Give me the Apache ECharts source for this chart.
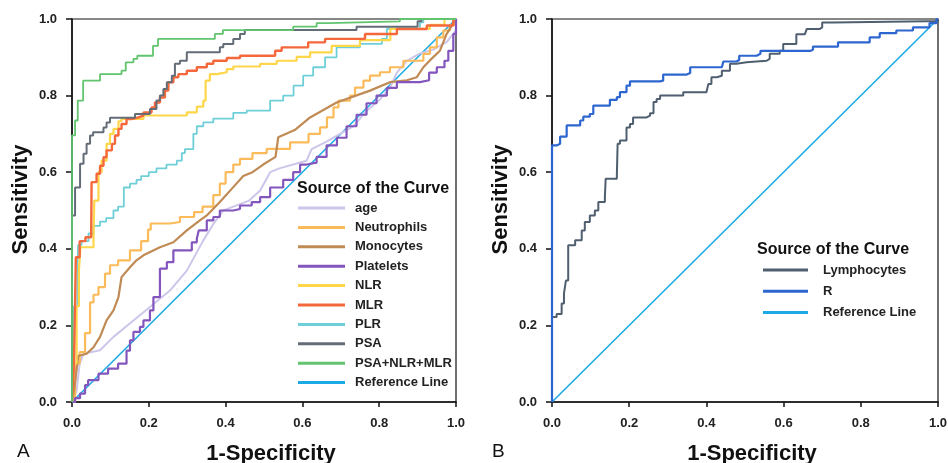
<!DOCTYPE html>
<html>
<head>
<meta charset="utf-8">
<script src="https://cdn.jsdelivr.net/npm/echarts@6/dist/echarts.min.js"></script>
<style>html,body{margin:0;padding:0;background:#fff;}#c{width:948px;height:463px;}</style>
</head>
<body>
<div id="c"></div>
<script>
// ---------- Data (x = 1-Specificity, y = Sensitivity) ----------
const axisTicks = [0, 0.2, 0.4, 0.6, 0.8, 1.0];

const ageData = [[0,0],[0.012,0.03],[0.02,0.1],[0.03,0.126],[0.073,0.135],[0.108,0.17],[0.16,0.213],[0.203,0.248],[0.255,0.291],[0.299,0.343],[0.342,0.422],[0.368,0.465],[0.394,0.5],[0.42,0.51],[0.46,0.525],[0.49,0.552],[0.516,0.6],[0.54,0.61],[0.576,0.62],[0.611,0.63],[0.624,0.66],[0.663,0.68],[0.698,0.7],[0.733,0.72],[0.767,0.76],[0.802,0.79],[0.828,0.82],[0.846,0.86],[0.871,0.89],[0.906,0.91],[0.941,0.92],[0.976,0.94],[1,0.97]];

const neutrophilsData = [[0,0],[0.008,0.05],[0.012,0.1],[0.02,0.13],[0.034,0.18],[0.047,0.26],[0.056,0.28],[0.069,0.30],[0.086,0.335],[0.099,0.357],[0.12,0.37],[0.151,0.396],[0.18,0.42],[0.198,0.45],[0.205,0.466],[0.255,0.47],[0.281,0.483],[0.318,0.496],[0.34,0.51],[0.368,0.54],[0.385,0.57],[0.4,0.6],[0.42,0.62],[0.4375,0.635],[0.47,0.65],[0.507,0.661],[0.568,0.678],[0.616,0.7],[0.646,0.717],[0.664,0.743],[0.681,0.769],[0.694,0.787],[0.724,0.8],[0.737,0.821],[0.759,0.839],[0.776,0.852],[0.802,0.861],[0.828,0.874],[0.863,0.891],[0.915,0.909],[0.932,0.926],[0.95,0.952],[0.967,0.97],[0.984,0.985],[1,1]];

const monocytesData = [[0,0],[0.008,0.05],[0.016,0.12],[0.038,0.126],[0.056,0.143],[0.073,0.17],[0.09,0.213],[0.108,0.239],[0.121,0.274],[0.129,0.326],[0.151,0.352],[0.168,0.37],[0.186,0.383],[0.229,0.404],[0.264,0.417],[0.299,0.448],[0.333,0.474],[0.351,0.487],[0.385,0.522],[0.42,0.561],[0.446,0.59],[0.47,0.60],[0.498,0.62],[0.53,0.64],[0.537,0.691],[0.58,0.71],[0.62,0.743],[0.689,0.782],[0.776,0.813],[0.828,0.835],[0.872,0.84],[0.898,0.848],[0.915,0.874],[0.93,0.89],[0.958,0.917],[0.975,0.96],[1,1]];

const plateletsData = [[0,0],[0.008,0.01],[0.021,0.022],[0.034,0.044],[0.042,0.057],[0.069,0.074],[0.094,0.087],[0.12,0.1],[0.142,0.134],[0.151,0.161],[0.16,0.183],[0.177,0.196],[0.186,0.213],[0.203,0.239],[0.212,0.274],[0.229,0.348],[0.247,0.365],[0.264,0.396],[0.312,0.417],[0.325,0.426],[0.33,0.448],[0.351,0.474],[0.368,0.483],[0.385,0.5],[0.42,0.504],[0.4375,0.513],[0.468,0.522],[0.49,0.535],[0.516,0.56],[0.55,0.58],[0.576,0.60],[0.594,0.62],[0.611,0.625],[0.637,0.64],[0.663,0.67],[0.69,0.69],[0.715,0.72],[0.741,0.75],[0.767,0.78],[0.793,0.80],[0.82,0.82],[0.846,0.835],[0.906,0.84],[0.93,0.86],[0.95,0.874],[0.97,0.891],[0.98,0.917],[0.993,0.961],[1,1]];

const nlrData = [[0,0],[0.005,0.1],[0.012,0.25],[0.018,0.343],[0.022,0.404],[0.056,0.43],[0.058,0.526],[0.069,0.6],[0.077,0.63],[0.09,0.674],[0.099,0.7],[0.108,0.713],[0.121,0.733],[0.129,0.739],[0.186,0.748],[0.299,0.756],[0.325,0.771],[0.342,0.787],[0.348,0.839],[0.359,0.856],[0.377,0.861],[0.403,0.869],[0.42,0.876],[0.49,0.883],[0.533,0.891],[0.585,0.901],[0.62,0.913],[0.676,0.93],[0.75,0.945],[0.829,0.974],[0.932,0.985],[0.97,1],[1,1]];

const mlrData = [[0,0],[0.005,0.09],[0.01,0.378],[0.02,0.42],[0.035,0.43],[0.05,0.44],[0.051,0.574],[0.064,0.596],[0.073,0.617],[0.082,0.639],[0.09,0.657],[0.104,0.674],[0.112,0.696],[0.121,0.713],[0.129,0.726],[0.142,0.739],[0.155,0.743],[0.173,0.748],[0.186,0.756],[0.207,0.769],[0.216,0.782],[0.229,0.795],[0.242,0.813],[0.251,0.835],[0.264,0.848],[0.277,0.856],[0.299,0.865],[0.325,0.874],[0.351,0.883],[0.368,0.891],[0.403,0.898],[0.4375,0.904],[0.529,0.917],[0.546,0.926],[0.615,0.939],[0.659,0.948],[0.763,0.961],[0.846,0.974],[0.924,0.983],[0.993,1],[1,1]];

const plrData = [[0,0],[0.005,0.25],[0.014,0.35],[0.016,0.41],[0.025,0.42],[0.043,0.44],[0.056,0.46],[0.073,0.471],[0.089,0.48],[0.108,0.5],[0.12,0.51],[0.135,0.56],[0.151,0.57],[0.168,0.58],[0.18,0.59],[0.2,0.6],[0.22,0.61],[0.246,0.62],[0.273,0.63],[0.286,0.65],[0.294,0.66],[0.316,0.7],[0.325,0.72],[0.342,0.73],[0.368,0.74],[0.42,0.755],[0.455,0.761],[0.516,0.787],[0.55,0.8],[0.577,0.826],[0.602,0.852],[0.628,0.874],[0.659,0.9],[0.689,0.926],[0.75,0.935],[0.807,0.948],[0.82,0.974],[0.906,0.991],[0.915,1],[1,1]];

const psaData = [[0,0],[0,0.487],[0.008,0.56],[0.021,0.622],[0.03,0.648],[0.038,0.674],[0.047,0.696],[0.055,0.704],[0.082,0.717],[0.09,0.73],[0.099,0.742],[0.164,0.752],[0.203,0.765],[0.22,0.787],[0.229,0.8],[0.238,0.817],[0.247,0.835],[0.26,0.852],[0.268,0.883],[0.281,0.891],[0.299,0.913],[0.385,0.926],[0.394,0.935],[0.42,0.948],[0.4375,0.961],[0.45,0.971],[0.741,0.98],[0.9,0.994],[0.91,1],[1,1]];

const comboData = [[0,0],[0,0.696],[0.008,0.735],[0.015,0.787],[0.029,0.839],[0.073,0.856],[0.129,0.865],[0.14,0.887],[0.16,0.896],[0.17,0.904],[0.211,0.93],[0.224,0.948],[0.372,0.961],[0.393,0.971],[0.576,0.98],[0.637,0.989],[0.667,0.994],[0.854,1],[1,1]];

const referenceData = [[0,0],[1,1]];

const lymphocytesData = [[0,0],[0,0.222],[0.012,0.23],[0.025,0.257],[0.031,0.283],[0.036,0.317],[0.042,0.409],[0.06,0.422],[0.077,0.448],[0.085,0.47],[0.098,0.487],[0.111,0.5],[0.12,0.522],[0.137,0.535],[0.139,0.583],[0.168,0.591],[0.17,0.674],[0.176,0.683],[0.193,0.717],[0.202,0.726],[0.21,0.743],[0.245,0.748],[0.254,0.754],[0.263,0.783],[0.271,0.791],[0.28,0.8],[0.34,0.809],[0.4,0.813],[0.405,0.83],[0.413,0.848],[0.427,0.852],[0.44,0.865],[0.461,0.883],[0.478,0.887],[0.504,0.891],[0.556,0.896],[0.564,0.909],[0.59,0.917],[0.599,0.935],[0.633,0.96],[0.655,0.965],[0.66,0.974],[0.694,0.978],[0.7,0.991],[0.728,0.994],[0.97,0.994],[1,1]];

const rData = [[0,0],[0,0.67],[0.012,0.674],[0.021,0.693],[0.038,0.722],[0.073,0.735],[0.081,0.745],[0.098,0.752],[0.107,0.774],[0.15,0.789],[0.168,0.796],[0.176,0.809],[0.193,0.826],[0.202,0.837],[0.28,0.839],[0.288,0.855],[0.349,0.859],[0.358,0.874],[0.44,0.878],[0.444,0.889],[0.478,0.893],[0.485,0.904],[0.53,0.909],[0.54,0.917],[0.67,0.92],[0.676,0.928],[0.741,0.939],[0.823,0.952],[0.849,0.963],[0.892,0.97],[0.935,0.978],[0.978,0.989],[0.996,1],[1,1]];

const leftNames = ['age','Neutrophils','Monocytes','Platelets','NLR','MLR','PLR','PSA','PSA+NLR+MLR','Reference Line'];
const rightNames = ['Lymphocytes','R','Reference Line'];
const legendTitle = 'Source of the Curve';
const xTitle = '1-Specificity';
const yTitle = 'Sensitivity';

// ---------- Chart ----------
const FONT = '"Liberation Sans", Arial, sans-serif';
const chart = echarts.init(document.getElementById('c'), null, {renderer: 'canvas'});

function mkX(i) {
  return {
    type: 'value', gridIndex: i, min: 0, max: 1, interval: 0.2,
    name: xTitle, nameLocation: 'middle', nameGap: 41,
    nameTextStyle: {fontFamily: FONT, fontWeight: 'bold', fontSize: 22, color: '#111', padding: [0, 0, 0, 14]},
    axisLine: {show: true, onZero: false, lineStyle: {color: '#111', width: 1.5}},
    axisTick: {show: true, inside: false, length: 5, lineStyle: {color: '#111', width: 1.5}},
    axisLabel: {margin: 15, fontFamily: FONT, fontWeight: 'bold', fontSize: 13, color: '#222',
      formatter: v => v.toFixed(1)},
    splitLine: {show: false}
  };
}
function mkY(i) {
  return {
    type: 'value', gridIndex: i, min: 0, max: 1, interval: 0.2,
    name: yTitle, nameLocation: 'middle', nameGap: 40,
    nameTextStyle: {fontFamily: FONT, fontWeight: 'bold', fontSize: 22, color: '#111', padding: [0, 0, 0, 22]},
    axisLine: {show: true, onZero: false, lineStyle: {color: '#111', width: 1.5}},
    axisTick: {show: true, inside: false, length: 6, lineStyle: {color: '#111', width: 1.5}},
    axisLabel: {margin: 15, fontFamily: FONT, fontWeight: 'bold', fontSize: 13, color: '#222',
      formatter: v => v.toFixed(1)},
    splitLine: {show: false}
  };
}
function ser(name, data, color, width, gi, step, z) {
  return {
    type: 'line', name: name, data: data, xAxisIndex: gi, yAxisIndex: gi,
    step: step ? 'end' : false, symbol: 'none', showSymbol: false, smooth: false,
    lineStyle: {color: color, width: width}, itemStyle: {color: color},
    z: z || 2, animation: false, silent: true
  };
}

const colors = {
  age: '#cdc6ea', Neutrophils: '#fbbb5a', Monocytes: '#c08a55', Platelets: '#8356bd',
  NLR: '#fdd64a', MLR: '#f4683c', PLR: '#6fcfd8', PSA: '#646c78', 'PSA+NLR+MLR': '#62c46e',
  'Reference Line': '#1caae6', Lymphocytes: '#4f5f70', R: '#2e66d0'
};

const option = {
  backgroundColor: '#ffffff',
  animation: false,
  grid: [
    {left: 72, top: 19, width: 384, height: 383, containLabel: false, outerBoundsMode: 'none',
      show: true, borderColor: '#111', borderWidth: 1.2, backgroundColor: 'transparent'},
    {left: 552, top: 19, width: 386, height: 383, containLabel: false, outerBoundsMode: 'none',
      show: true, borderColor: '#111', borderWidth: 1.2, backgroundColor: 'transparent'}
  ],
  xAxis: [mkX(0), mkX(1)],
  yAxis: [mkY(0), mkY(1)],
  title: [
    {text: legendTitle, left: 297, top: 181, textStyle: {fontFamily: FONT, fontWeight: 'bold', fontSize: 16, color: '#111'}, padding: 0},
    {text: legendTitle, left: 757, top: 242, textStyle: {fontFamily: FONT, fontWeight: 'bold', fontSize: 16, color: '#111'}, padding: 0},
    {text: 'A', left: 17, top: 442, textStyle: {fontFamily: FONT, fontWeight: 'normal', fontSize: 19, color: '#111'}, padding: 0},
    {text: 'B', left: 492, top: 442, textStyle: {fontFamily: FONT, fontWeight: 'normal', fontSize: 19, color: '#111'}, padding: 0}
  ],
  legend: [
    {data: leftNames, orient: 'vertical', left: 298, top: 201, padding: 0, itemWidth: 47, itemHeight: 3, itemGap: 5.4,
      icon: 'rect', selectedMode: false,
      textStyle: {fontFamily: FONT, fontWeight: 'bold', fontSize: 13, lineHeight: 14, color: '#222', padding: [0, 0, 0, 5]}},
    {data: rightNames, orient: 'vertical', left: 763, top: 263, padding: 0, itemWidth: 45, itemHeight: 3, itemGap: 7.3,
      icon: 'rect', selectedMode: false,
      textStyle: {fontFamily: FONT, fontWeight: 'bold', fontSize: 13, lineHeight: 14, color: '#222', padding: [0, 0, 0, 10]}}
  ],
  series: [
    ser('Reference Line', referenceData, colors['Reference Line'], 1.6, 0, false, 1),
    ser('age', ageData, colors.age, 2, 0, false),
    ser('Neutrophils', neutrophilsData, colors.Neutrophils, 2.2, 0, true),
    ser('Monocytes', monocytesData, colors.Monocytes, 2.2, 0, false),
    ser('Platelets', plateletsData, colors.Platelets, 2.2, 0, true),
    ser('PLR', plrData, colors.PLR, 1.8, 0, true),
    ser('NLR', nlrData, colors.NLR, 2.2, 0, true),
    ser('MLR', mlrData, colors.MLR, 2.4, 0, true),
    ser('PSA', psaData, colors.PSA, 2, 0, true),
    ser('PSA+NLR+MLR', comboData, colors['PSA+NLR+MLR'], 1.8, 0, true),
    ser('Reference Line', referenceData, colors['Reference Line'], 1.6, 1, false, 1),
    ser('Lymphocytes', lymphocytesData, colors.Lymphocytes, 2, 1, true),
    ser('R', rData, colors.R, 2.2, 1, true)
  ]
};
chart.setOption(option);
</script>
</body>
</html>
